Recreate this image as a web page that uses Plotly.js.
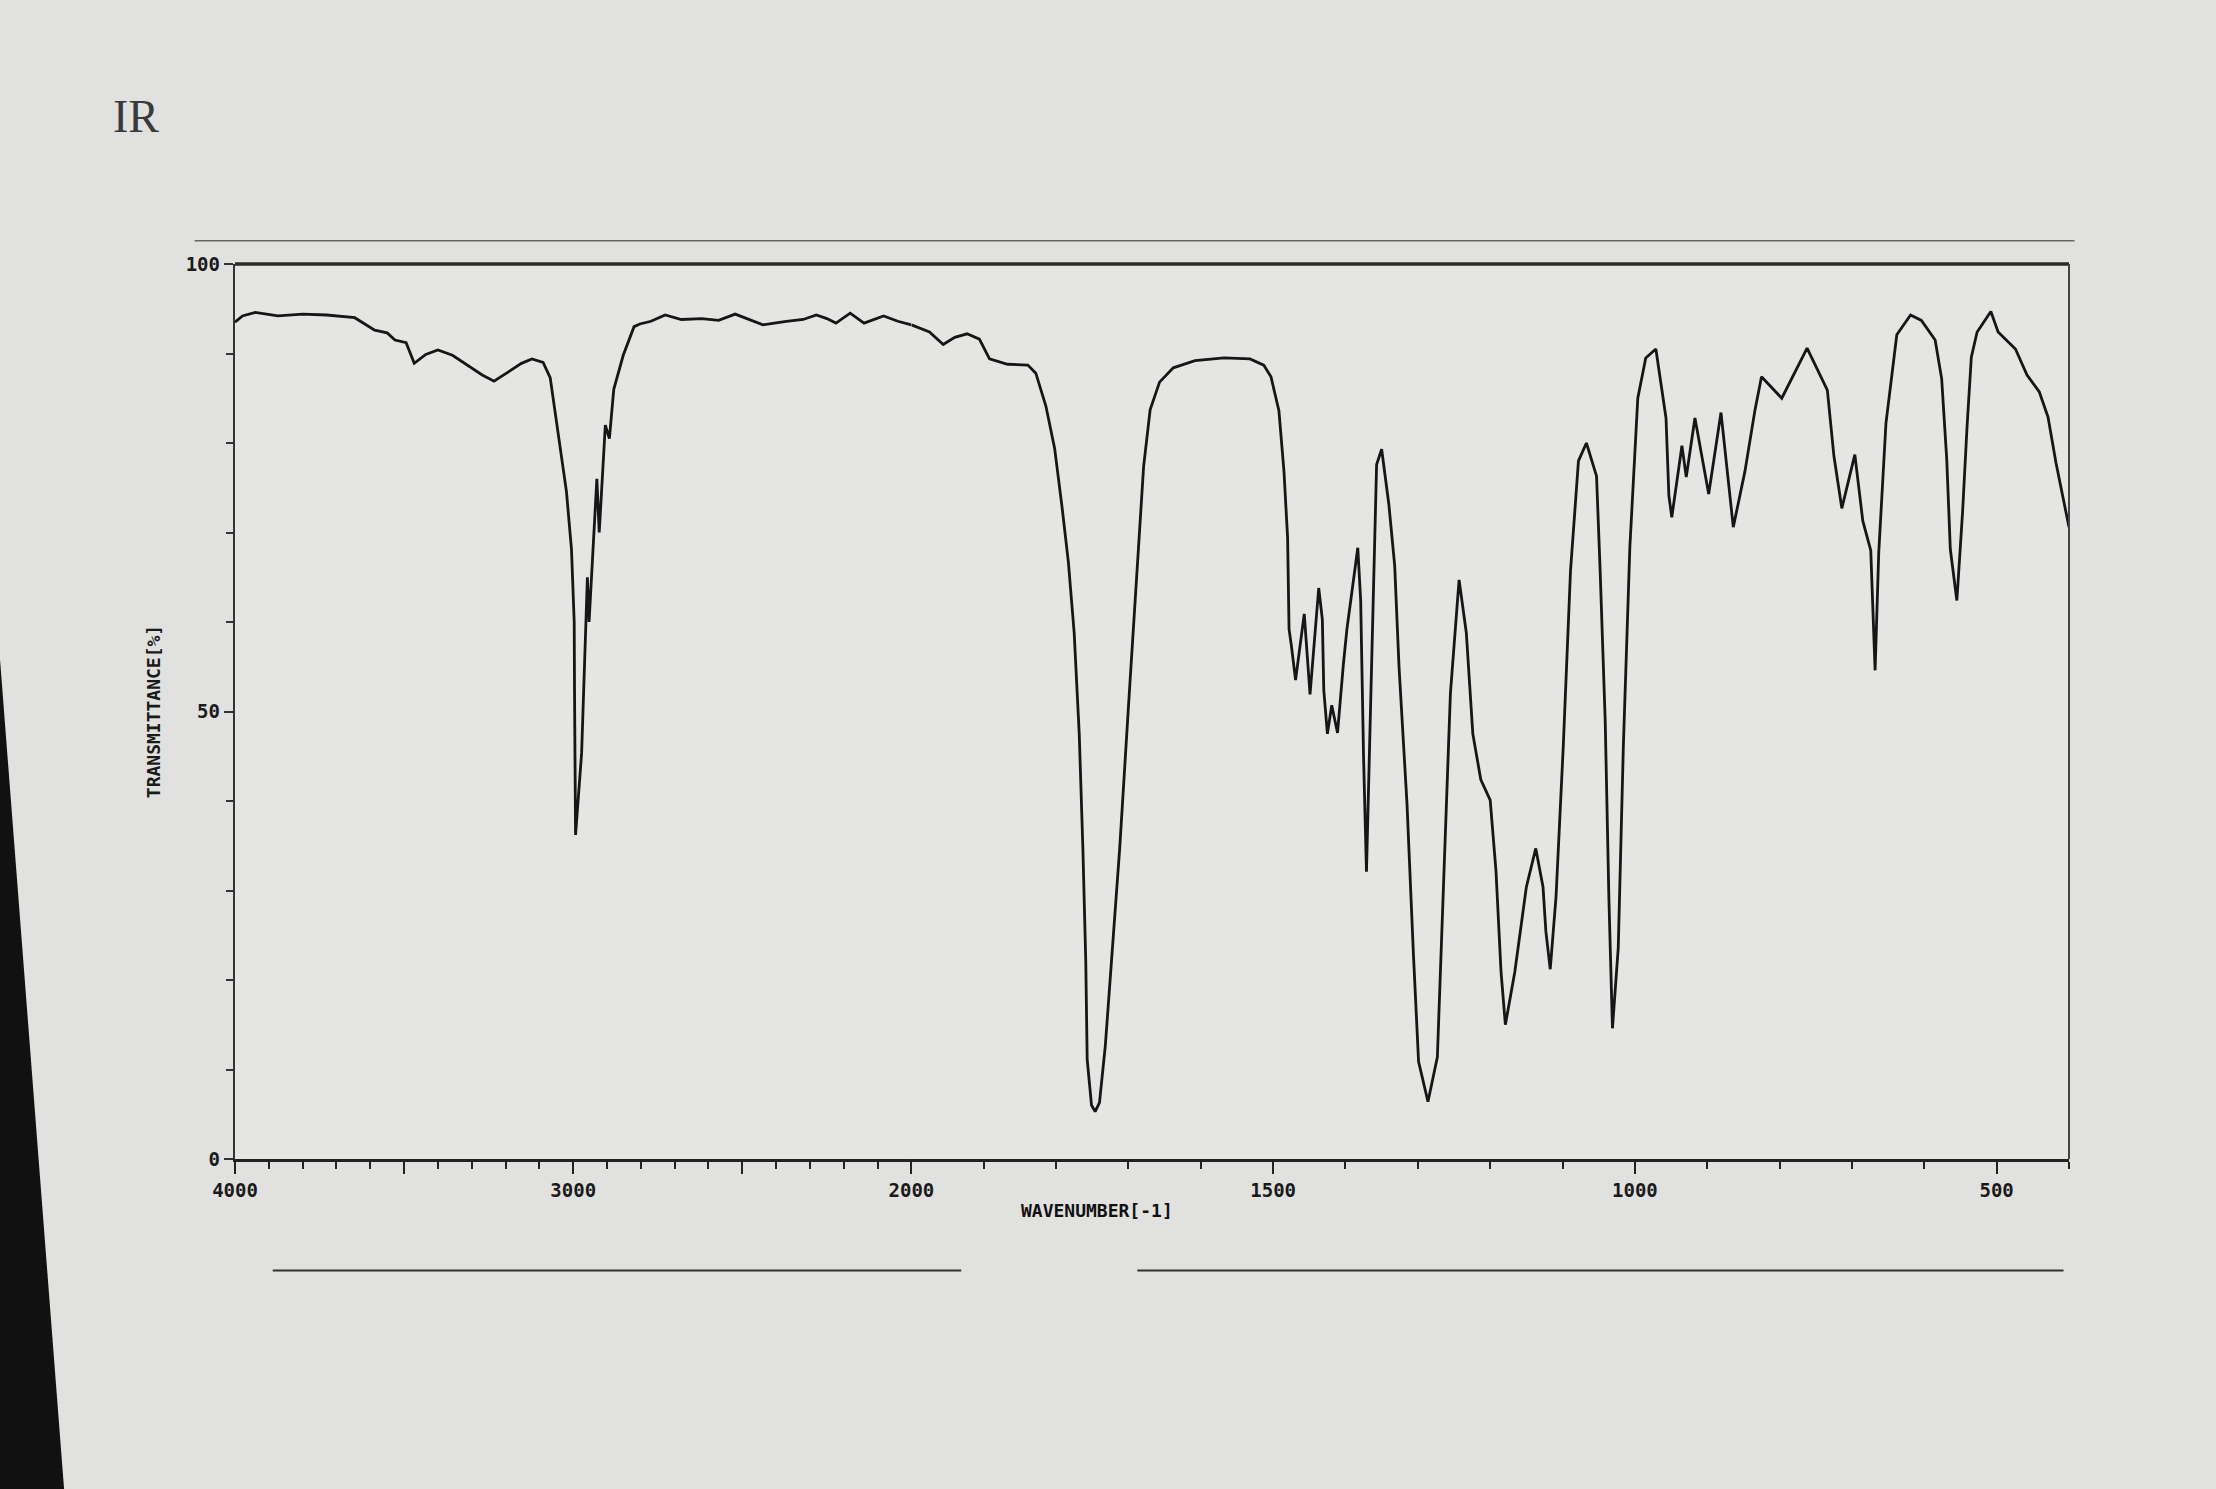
<!DOCTYPE html>
<html>
<head>
<meta charset="utf-8">
<script src="https://cdn.plot.ly/plotly-3.0.1.min.js"></script>
<style>
  html, body { margin: 0; padding: 0; background: #e1e1df; }
  #chart { width: 2216px; height: 1489px; }
</style>
</head>
<body>
<div id="chart"></div>
<script>
// High-wavenumber segment (4000 -> 2000 cm-1)
const wn_hi = [4000, 3978, 3940, 3873, 3800, 3729, 3646, 3587, 3550, 3527, 3494, 3470, 3436, 3400, 3357, 3308, 3269, 3234, 3195, 3153, 3122, 3089, 3068, 3054, 3040, 3020, 3005, 2997, 2996, 2995, 2993, 2975, 2966, 2958, 2953, 2942, 2930, 2923, 2905, 2893, 2880, 2852, 2820, 2803, 2770, 2728, 2680, 2620, 2570, 2521, 2480, 2439, 2370, 2320, 2281, 2250, 2223, 2181, 2140, 2082, 2040, 2000];
const t_hi = [93.5, 94.2, 94.6, 94.2, 94.4, 94.3, 94.0, 92.6, 92.3, 91.5, 91.2, 88.9, 89.9, 90.4, 89.8, 88.6, 87.6, 86.9, 87.9, 88.9, 89.4, 89.0, 87.3, 83.7, 79.6, 74.6, 68.1, 60.0, 52.0, 44.0, 36.2, 45.4, 55.0, 65.0, 60.0, 68.0, 76.0, 70.0, 82.0, 80.5, 86.0, 89.8, 93.0, 93.3, 93.6, 94.3, 93.8, 93.9, 93.7, 94.4, 93.8, 93.2, 93.6, 93.8, 94.3, 93.9, 93.4, 94.5, 93.4, 94.2, 93.6, 93.2];

// Low-wavenumber segment (2000 -> 400 cm-1)
const wn_lo = [2000, 1975, 1956, 1940, 1923, 1906, 1892, 1867, 1839, 1828, 1814, 1802, 1792, 1783, 1775, 1768, 1763, 1759, 1757, 1751, 1746, 1740, 1732, 1723, 1712, 1700, 1688, 1679, 1670, 1657, 1638, 1608, 1568, 1532, 1513, 1503, 1492, 1485, 1480, 1478, 1475, 1469, 1457, 1449, 1437, 1432, 1430, 1425, 1419, 1411, 1403, 1398, 1383, 1379, 1375, 1371, 1357, 1350, 1340, 1332, 1326, 1315, 1306, 1299, 1286, 1273, 1265, 1255, 1243, 1233, 1224, 1213, 1200, 1192, 1185, 1179, 1166, 1150, 1137, 1127, 1123, 1117, 1109, 1099, 1089, 1078, 1067, 1053, 1048, 1041, 1036, 1031, 1023, 1016, 1007, 996, 985, 971, 957, 953, 949, 935, 929, 917, 898, 881, 864, 848, 834, 825, 797, 762, 734, 725, 714, 696, 685, 674, 668, 663, 653, 638, 619, 604, 585, 576, 569, 564, 555, 547, 541, 535, 527, 508, 498, 474, 458, 441, 429, 418, 400];
const t_lo = [93.2, 92.4, 91.0, 91.8, 92.2, 91.6, 89.4, 88.8, 88.7, 87.8, 84.1, 79.4, 73.0, 66.7, 58.8, 47.5, 34.8, 22.2, 11.1, 6.0, 5.3, 6.3, 12.6, 22.1, 34.8, 50.5, 66.3, 77.4, 83.7, 86.8, 88.4, 89.2, 89.5, 89.4, 88.7, 87.4, 83.6, 76.8, 69.4, 59.2, 57.5, 53.5, 60.9, 51.9, 63.8, 60.3, 52.4, 47.5, 50.7, 47.6, 55.2, 59.2, 68.3, 62.4, 44.8, 32.1, 77.6, 79.3, 73.1, 66.3, 55.0, 39.7, 22.7, 10.9, 6.4, 11.4, 29.5, 52.0, 64.7, 58.8, 47.5, 42.4, 40.1, 32.2, 20.9, 15.0, 20.9, 30.4, 34.7, 30.4, 25.4, 21.2, 29.3, 46.1, 65.7, 78.0, 80.0, 76.3, 65.7, 48.9, 29.3, 14.6, 23.6, 46.0, 68.3, 85.0, 89.5, 90.5, 82.8, 74.1, 71.7, 79.7, 76.2, 82.8, 74.3, 83.4, 70.6, 76.8, 83.7, 87.4, 85.0, 90.6, 85.9, 78.6, 72.7, 78.7, 71.3, 68.0, 54.6, 67.7, 82.2, 92.1, 94.3, 93.7, 91.5, 87.2, 78.2, 68.1, 62.4, 72.4, 81.7, 89.6, 92.4, 94.7, 92.4, 90.5, 87.6, 85.7, 82.9, 77.8, 70.6];

// Axis tick labels
const ticks_hi = [4000, 3500, 3000, 2500, 2000];
const ticklabels_hi = ['4000', '', '3000', '', '2000'];
const ticks_lo = [1500, 1000, 500];
const ticklabels_lo = ['1500', '1000', '500'];
const ticks_y = [0, 50, 100];
const ticklabels_y = ['0', '50', '100'];

const ink = '#161616';
const tickFont = {family: 'DejaVu Sans Mono', size: 19, color: '#1a1a1a', weight: 'bold'};
const split = 0.3688;

const traces = [
  {x: wn_hi, y: t_hi, xaxis: 'x', yaxis: 'y', mode: 'lines',
   line: {color: ink, width: 2.8}, hoverinfo: 'skip', showlegend: false},
  {x: wn_lo, y: t_lo, xaxis: 'x2', yaxis: 'y', mode: 'lines',
   line: {color: ink, width: 2.8}, hoverinfo: 'skip', showlegend: false}
];

const xcommon = {
  showgrid: false, zeroline: false, showline: true, linecolor: '#222', linewidth: 3,
  ticks: 'outside', ticklen: 12, tickwidth: 2.2, tickcolor: '#222',
  tickfont: tickFont, anchor: 'y', fixedrange: true,
  minor: {dtick: 100, tick0: 0, ticks: 'outside', ticklen: 7, tickwidth: 2, tickcolor: '#222'}
};

const layout = {
  width: 2216, height: 1489,
  margin: {l: 235, r: 147, t: 264, b: 330},
  paper_bgcolor: '#e1e1df',
  plot_bgcolor: '#e5e5e3',
  title: {text: 'IR', xref: 'container', yref: 'container', x: 0.051, xanchor: 'left',
          y: 0.922, yanchor: 'middle',
          font: {family: 'Liberation Serif', size: 46, color: '#3a3a3a'}},
  xaxis: Object.assign({}, xcommon, {domain: [0, split], range: [4000, 2000], autorange: false,
          tickvals: ticks_hi, ticktext: ticklabels_hi}),
  xaxis2: Object.assign({}, xcommon, {domain: [split, 1], range: [2000, 400], autorange: false,
          tickvals: ticks_lo, ticktext: ticklabels_lo}),
  yaxis: {
    range: [0, 100], autorange: false, domain: [0, 1],
    showgrid: false, zeroline: false, showline: true, linecolor: '#333', linewidth: 2.2,
    ticks: 'outside', ticklen: 9, tickwidth: 2, tickcolor: '#333',
    tickvals: ticks_y, ticktext: ticklabels_y, tickfont: tickFont, fixedrange: true,
    minor: {dtick: 10, tick0: 0, ticks: 'outside', ticklen: 7, tickwidth: 2, tickcolor: '#333'},
    title: {text: 'TRANSMITTANCE[%]', standoff: 20,
            font: {family: 'DejaVu Sans Mono', size: 18, color: '#1a1a1a', weight: 'bold'}}
  },
  annotations: [
    {text: 'WAVENUMBER[-1]', xref: 'paper', yref: 'paper', x: 0.47, y: -0.058,
     xanchor: 'center', yanchor: 'middle', showarrow: false,
     font: {family: 'DejaVu Sans Mono', size: 18, color: '#111', weight: 'bold'}}
  ],
  shapes: [
    // plot frame (top and right)
    {type: 'line', xref: 'paper', yref: 'paper', x0: 0, x1: 1, y0: 1, y1: 1,
     line: {color: '#2a2a2a', width: 3.5}},
    {type: 'line', xref: 'paper', yref: 'paper', x0: 1, x1: 1, y0: 0, y1: 1,
     line: {color: '#444', width: 2}},
    // printed page rules
    {type: 'line', xref: 'paper', yref: 'paper', x0: -0.022, x1: 1.003, y0: 1.026, y1: 1.026,
     line: {color: '#666', width: 1.6}},
    {type: 'line', xref: 'paper', yref: 'paper', x0: 0.0206, x1: 0.396, y0: -0.1247, y1: -0.1247,
     line: {color: '#333', width: 2}},
    {type: 'line', xref: 'paper', yref: 'paper', x0: 0.492, x1: 0.997, y0: -0.1247, y1: -0.1247,
     line: {color: '#333', width: 2}},
    // dark monitor bezel at lower left edge of the photo
    {type: 'path', xref: 'paper', yref: 'paper', layer: 'above',
     path: 'M -0.2,0.5575 L -0.1281,0.5575 L -0.0932,-0.3687 L -0.2,-0.3687 Z',
     fillcolor: '#111', line: {width: 0}}
  ]
};

Plotly.newPlot('chart', traces, layout, {staticPlot: true, displayModeBar: false});
</script>
</body>
</html>
